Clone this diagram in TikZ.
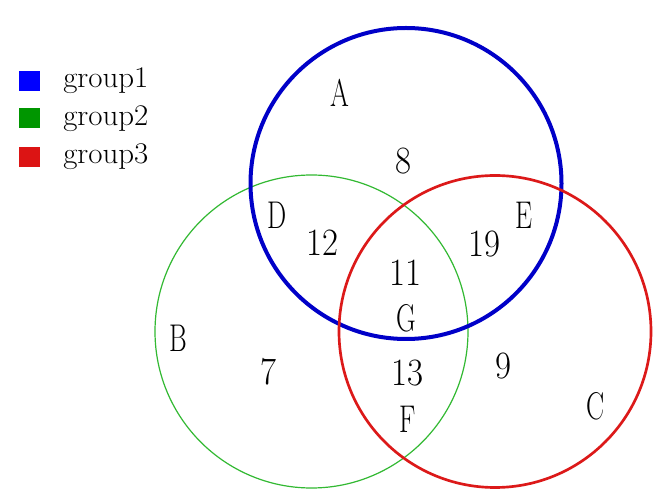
\documentclass[tikz,border=0pt]{standalone}
\usepackage{tikz}
\definecolor{ringA}{RGB}{0,0,200}
\definecolor{ringB}{RGB}{50,185,50}
\definecolor{ringC}{RGB}{220,25,25}
\definecolor{keyA}{RGB}{0,0,255}
\definecolor{keyB}{RGB}{0,150,0}
\definecolor{keyC}{RGB}{220,20,20}
\tikzset{
    setname/.style={inner sep=0pt,xscale=0.7,font=\fontsize{29}{30}\selectfont},
    count/.style={inner sep=0pt,xscale=0.9,font=\fontsize{29}{30}\selectfont},
    keytext/.style={inner sep=0pt,anchor=base west,xscale=1.03,font=\fontsize{22.5}{23}\selectfont}
}
\begin{document}
\begin{tikzpicture}[x=0.75pt,y=-0.75pt]
                \useasboundingbox[fill=white] (0,0) rectangle (664,498);
                % circles
                \coordinate (cB) at (311.5,331.5);
                \coordinate (cA) at (406,183.5);
                \coordinate (cC) at (495,331.5);
                \draw[ringB,line width=0.9pt]
                    (cB) circle[radius=156.5];
                \draw[ringA,line width=3pt]
                    (cA) circle[radius=155.5];
                \draw[ringC,line width=2pt]
                    (cC) circle[radius=156];
                % set names
                \node[setname] (A) at (340,93) {A};
                \node[setname] (B) at (178,338) {B};
                \node[setname] (C) at (596,406) {C};
                \node[setname] (D) at (277,215) {D};
                \node[setname] (E) at (524,215) {E};
                \node[setname] (F) at (408,419) {F};
                \node[setname] (G) at (406,318) {G};
                % counts
                \node[count] (nA) at (403,161) {8};
                \node[count] (nB) at (268,372) {7};
                \node[count] (nC) at (503,366) {9};
                \node[count] (nAB) at (322,243) {12};
                \node[count] (nAC) at (484,244) {19};
                \node[count] (nBC) at (407,373) {13};
                \node[count] (nABC) at (405,273) {11};
                % legend
                \fill[keyA] (19,71) rectangle (40,91);
                \fill[keyB] (19,108) rectangle (40,128);
                \fill[keyC] (19,147) rectangle (40,167);
                \node[keytext] (k1) at (63,88) {group1};
                \node[keytext] (k2) at (63,126) {group2};
                \node[keytext] (k3) at (63,164) {group3};
            \end{tikzpicture}
\end{document}
